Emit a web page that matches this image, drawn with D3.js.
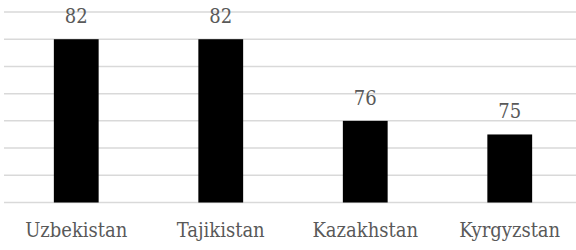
<!DOCTYPE html>
<html>
<head>
<meta charset="utf-8">
<script src="https://cdn.jsdelivr.net/npm/d3@7"></script>
<style>
  body { margin: 0; background: #fff; }
  svg { display: block; }
  .lbl { font-family: "DejaVu Serif Condensed", "DejaVu Serif", serif; font-stretch: condensed; font-size: 20px; fill: #595959; }
</style>
</head>
<body>
<div id="chart"></div>
<script>
// Column chart, four Central Asian countries

const countries = ["Uzbekistan", "Tajikistan", "Kazakhstan", "Kyrgyzstan"];
const values = [82, 82, 76, 75];
const gridTicks = [70, 72, 74, 76, 78, 80, 82, 84];

const width = 576,
  height = 250;

const svg = d3.select("#chart")
  .append("svg")
  .attr("width", width)
  .attr("height", height);

// category band, bar is centred in its slot like the office chart
const x = d3.scaleBand()
  .domain(countries)
  .range([4, 582])
  .paddingInner(0.69)
  .paddingOuter(0.345);

const y = d3.scaleLinear()
  .domain([70, 84])
  .range([202.5, 12]);

// gridlines
svg.append("g")
  .selectAll("line")
  .data(gridTicks)
  .join("line")
  .attr("x1", 4)
  .attr("x2", 576)
  .attr("y1", d => y(d))
  .attr("y2", d => y(d))
  .attr("stroke", "#d9d9d9")
  .attr("stroke-width", 1.5);

// bars
svg.append("g")
  .selectAll("rect")
  .data(values)
  .join("rect")
  .attr("x", (d, i) => x(countries[i]))
  .attr("y", d => y(d))
  .attr("width", x.bandwidth())
  .attr("height", d => y(70) - y(d))
  .attr("fill", "#000");

// value labels
svg.append("g")
  .selectAll("text")
  .data(values)
  .join("text")
  .attr("class", "lbl")
  .attr("x", (d, i) => x(countries[i]) + x.bandwidth() / 2)
  .attr("y", d => y(d) - 16)
  .attr("text-anchor", "middle")
  .text(d => d);

// category labels
svg.append("g")
  .selectAll("text")
  .data(countries)
  .join("text")
  .attr("class", "lbl")
  .attr("x", d => x(d) + x.bandwidth() / 2)
  .attr("y", 237)
  .attr("text-anchor", "middle")
  .text(d => d);
</script>
</body>
</html>
